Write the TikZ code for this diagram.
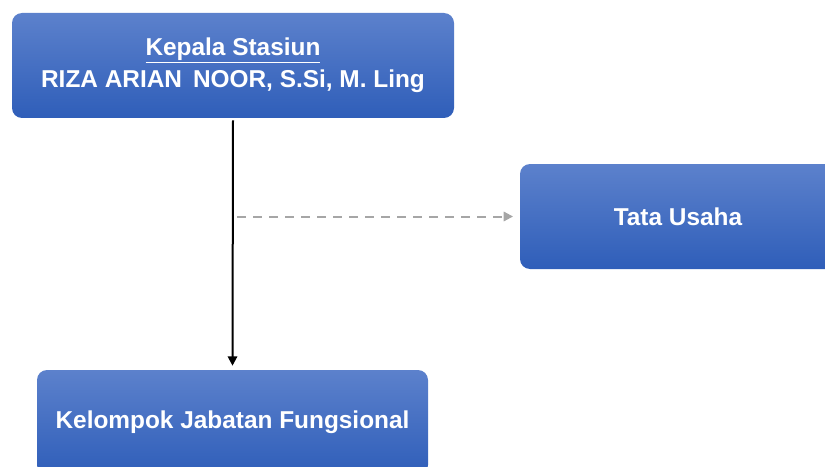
\documentclass[tikz,border=0pt]{standalone}
\usepackage{fontspec}
\setmainfont{Liberation Sans}
\usetikzlibrary{arrows.meta}

\definecolor{boxtop}{HTML}{5C81CC}
\definecolor{boxbot}{HTML}{2F5EB9}
\definecolor{dashgray}{HTML}{A6A6A6}

\tikzset{
  unitbox/.style={rounded corners=7.5pt, top color=boxtop, bottom color=boxbot,
    text=white, font=\fontsize{18.3}{24}\selectfont\bfseries, align=center,
    minimum height=78.75pt, inner sep=0pt},
  solidarrow/.style={line width=1.5pt, -{Triangle[length=7pt,width=7pt]}},
  dasharrow/.style={dashgray, line width=1.5pt, dash pattern=on 6.75pt off 5.25pt,
    -{Triangle[length=7pt,width=7pt]}}
}

\begin{document}
\begin{tikzpicture}[x=0.75pt,y=-0.75pt]
\useasboundingbox (0,0) rectangle (825,467);
\begin{scope}
\clip (0,0) rectangle (825,467);
\node[unitbox, minimum width=331.5pt] (kepala) at (233,65.5)
  {\underline{Kepala Stasiun}\\RIZA ARIAN\hspace{0.45em}NOOR, S.Si, M. Ling};
\node[unitbox, minimum width=237pt] (tatausaha) at (678,216.5) {Tata Usaha};
\node[unitbox, minimum width=293.25pt] (fungsional) at (232.5,422.5) {Kelompok Jabatan Fungsional};
\end{scope}
% garis komando
\coordinate (cabang) at (kepala.south |- tatausaha.west);
\draw[solidarrow] ([yshift=-1.5pt]kepala.south) -- ([yshift=3pt]fungsional.north);
% garis koordinasi
\draw[dasharrow] ([xshift=3pt]cabang) -- ([xshift=-5pt]tatausaha.west);
\end{tikzpicture}
\end{document}
